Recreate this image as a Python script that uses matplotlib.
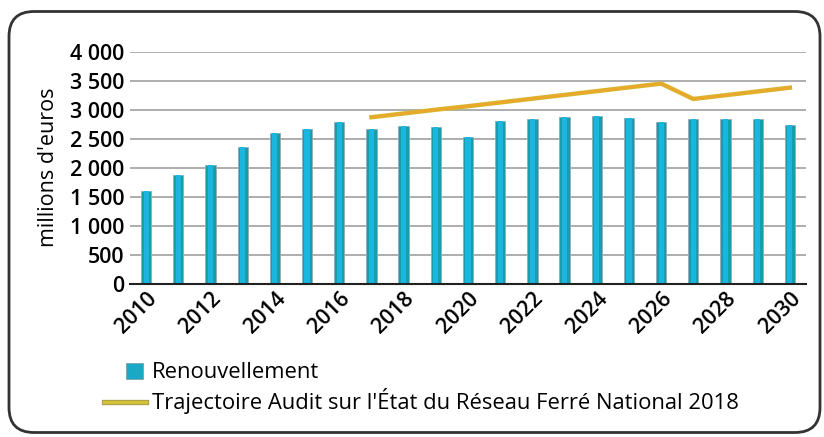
import matplotlib
matplotlib.use("Agg")
import matplotlib.pyplot as plt
import matplotlib.patheffects as pe
from matplotlib.patches import FancyBboxPatch, Patch, Rectangle
from matplotlib.lines import Line2D
from matplotlib.legend_handler import HandlerPatch

plt.rcParams['font.family'] = ['Open Sans', 'DejaVu Sans']

# renouvellement du réseau, en millions d'euros
years = list(range(2010, 2031))
renouvellement = [1600, 1870, 2050, 2360, 2590, 2660, 2780, 2660, 2720, 2700,
                  2530, 2810, 2845, 2875, 2890, 2855, 2790, 2845, 2845, 2845, 2740]

# trajectoire de l'audit 2018
audit_years = list(range(2017, 2031))
audit = [2870, 2935, 3000, 3060, 3125, 3190, 3255, 3320, 3385, 3450,
         3185, 3250, 3315, 3380]

yticks = [0, 500, 1000, 1500, 2000, 2500, 3000, 3500, 4000]
ytick_labels = ['0', '500', '1 000', '1 500', '2 000', '2 500', '3 000', '3 500', '4 000']
xticks = list(range(2010, 2031, 2))

bar_edge = '#1a9daa'
bar_inner = '#1bb6e0'
line_core = '#eea62a'
line_halo = '#d6b630'

fig = plt.figure(figsize=(8.24, 4.37), dpi=100)
ax = fig.add_axes([130 / 824, 1 - 283.7 / 437, 676 / 824, 232 / 437])

# barres : fond sarcelle + coeur cyan plus clair
ax.bar(years, renouvellement, width=0.32, color=bar_edge,
       edgecolor='#8fb0b5', linewidth=0.6, zorder=3)
ax.bar(years, renouvellement, width=0.16, color=bar_inner, linewidth=0, zorder=3)

ax.plot(audit_years, audit, color=line_core, linewidth=1.5, zorder=4,
        path_effects=[pe.Stroke(linewidth=3.2, foreground=line_halo), pe.Normal()])

ax.set_xlim(2009.5, 2030.5)
ax.set_ylim(0, 4000)
ax.set_yticks(yticks)
ax.set_yticklabels(ytick_labels, fontsize=15.5, fontweight='semibold')
ax.set_xticks(xticks)
ax.set_xticklabels([str(y) for y in xticks], fontsize=15.5, fontweight='semibold',
                   rotation=45, ha='right', va='top', rotation_mode='anchor')
ax.tick_params(axis='y', length=0, pad=4)
ax.tick_params(axis='x', length=0, pad=3)
ax.yaxis.grid(True, color='#a0a0a0', linewidth=1.2, zorder=0)
ax.set_axisbelow(True)
for side in ['top', 'right', 'left']:
    ax.spines[side].set_visible(False)
ax.spines['bottom'].set_color('#222222')
ax.spines['bottom'].set_linewidth(1.5)
ax.spines['bottom'].set_zorder(5)

ax.set_ylabel("millions d'euros", fontsize=15.5)
ax.yaxis.set_label_coords(-0.105, 0.5)


def square_handle(legend, orig_handle, xdescent, ydescent, width, height, fontsize):
    return Rectangle((width - 14 - xdescent, -ydescent - 1), 12, 11.5)


handles = [
    Patch(facecolor='#1aa9c4', edgecolor='#7aa4ab', linewidth=0.6),
    Line2D([], [], color='#d2c23a', linewidth=2.5,
           path_effects=[pe.Stroke(linewidth=3.8, foreground='#a89a48'), pe.Normal()]),
]
labels = ['Renouvellement', "Trajectoire Audit sur l'État du Réseau Ferré National 2018"]
fig.legend(handles, labels, loc='upper left', bbox_to_anchor=(104 / 824, 1 - 362 / 437),
           frameon=False, fontsize=15.8, handlelength=1.9, handletextpad=0.3,
           labelspacing=0.25, borderaxespad=0, borderpad=0,
           handler_map={Patch: HandlerPatch(patch_func=square_handle)})

# cadre arrondi autour du graphique
frame = FancyBboxPatch((0.09, 0.045), 8.11, 4.21, boxstyle='round,pad=0,rounding_size=0.25',
                       transform=fig.dpi_scale_trans, facecolor='none',
                       edgecolor='#333333', linewidth=2)
fig.patches.append(frame)

fig.savefig('out.png', dpi=100)
